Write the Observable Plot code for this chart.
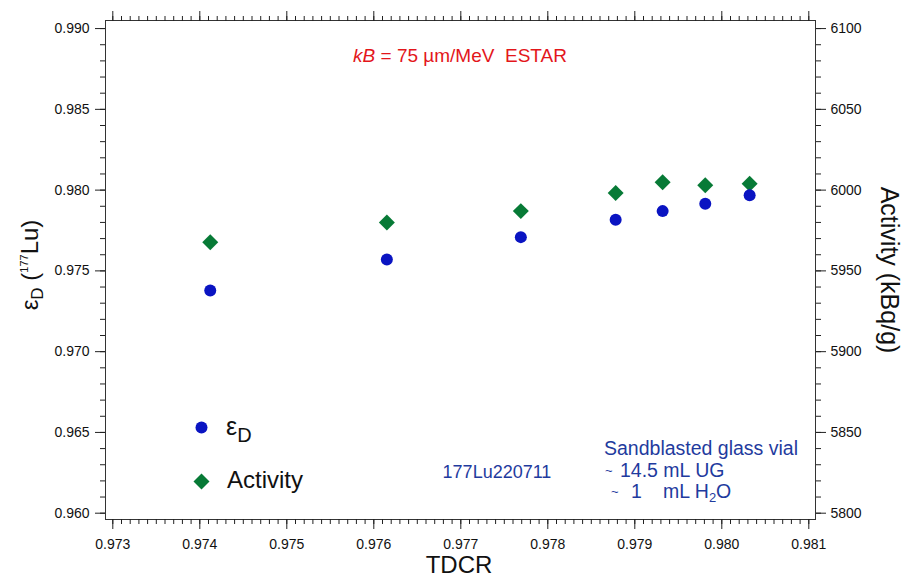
<!DOCTYPE html>
<html>
<head>
<meta charset="utf-8">
<script src="https://cdn.jsdelivr.net/npm/d3@7"></script>
<script src="https://cdn.jsdelivr.net/npm/@observablehq/plot@0.6"></script>
<style>
  html, body { margin: 0; padding: 0; background: white; }
  svg text { white-space: pre; }
</style>
</head>
<body>
<div id="chart"></div>
<script>
// ---- data ----
const tdcr     = [0.97412, 0.97615, 0.97769, 0.97878, 0.97932, 0.97981, 0.98032];
const epsD     = [0.97379, 0.97571, 0.97709, 0.97817, 0.97870, 0.97916, 0.97968];
const activity = [5967.8, 5980.0, 5987.0, 5998.2, 6004.8, 6003.0, 6004.0];

// tick values
const xMajor = [0.973, 0.974, 0.975, 0.976, 0.977, 0.978, 0.979, 0.980, 0.981];
const xMinor = d3.range(0, 81).map(i => +(0.973 + i * 0.0001).toFixed(4));
const yMajor = [0.960, 0.965, 0.970, 0.975, 0.980, 0.985, 0.990];
const yMinor = d3.range(0, 31).map(i => +(0.960 + i * 0.001).toFixed(3));
const activityTicks = [5800, 5850, 5900, 5950, 6000, 6050, 6100];

// right-hand scale: activity 5800..6100 shares the frame with eps 0.960..0.990
const actToEps = a => 0.960 + (a - 5800) / 10000;
const epsToAct = e => Math.round(5800 + (e - 0.960) * 10000);

const data = tdcr.map((t, i) => ({tdcr: t, eps: epsD[i], act: activity[i]}));

const BLUE = "#0a14c2";
const GREEN = "#077a36";
const TEXTBLUE = "#1f3b9e";
const RED = "#e3161b";

const plot = Plot.plot({
  width: 903,
  height: 579,
  marginLeft: 105,
  marginRight: 88,
  marginTop: 20,
  marginBottom: 60,
  x: {domain: [0.972916, 0.981077]},
  y: {domain: [0.95961, 0.99050]},
  style: {fontFamily: "'Liberation Sans', Arial, sans-serif", fontSize: "14px", color: "#222", background: "white"},
  marks: [
    Plot.frame({stroke: "#333"}),
    // bottom axis
    Plot.axisX(xMajor, {anchor: "bottom", tickSize: 10, tickPadding: 10, tickFormat: d3.format(".3f"), label: null, fill: "#111"}),
    Plot.axisX(xMinor, {anchor: "bottom", tickSize: 5, fill: "none", label: null}),
    // top axis (ticks only)
    Plot.axisX(xMajor, {anchor: "top", tickSize: 10, fill: "none", label: null}),
    Plot.axisX(xMinor, {anchor: "top", tickSize: 5, fill: "none", label: null}),
    // left axis
    Plot.axisY(yMajor, {anchor: "left", tickSize: 10, tickPadding: 6, tickFormat: d3.format(".3f"), label: null, fill: "#111"}),
    Plot.axisY(yMinor, {anchor: "left", tickSize: 5, fill: "none", label: null}),
    // right axis (activity)
    Plot.axisY(yMajor, {anchor: "right", tickSize: 10, tickPadding: 5, tickFormat: d => String(epsToAct(d)), label: null, fill: "#111"}),
    Plot.axisY(yMinor, {anchor: "right", tickSize: 5, fill: "none", label: null}),
    // data
    Plot.dot(data, {x: "tdcr", y: d => actToEps(d.act), symbol: "diamond2", r: 7.2, fill: GREEN, stroke: "none"}),
    Plot.dot(data, {x: "tdcr", y: "eps", r: 6, fill: BLUE, stroke: "none"}),
    // legend symbols
    Plot.dot([0], {frameAnchor: "bottom-left", dx: 96, dy: -92, r: 6, fill: BLUE, stroke: "none"}),
    Plot.dot([0], {frameAnchor: "bottom-left", dx: 96, dy: -38, symbol: "diamond2", r: 7.2, fill: GREEN, stroke: "none"})
  ]
});

document.getElementById("chart").appendChild(plot);

const svg = d3.select(plot);
const FONT = "'Liberation Sans', Arial, sans-serif";
const g = svg.append("g").attr("font-family", FONT).attr("text-anchor", "start");

// x axis title
g.append("text").attr("x", 459).attr("y", 573).attr("text-anchor", "middle")
  .attr("font-size", 24).attr("fill", "#111").text("TDCR");

// left axis title: εD (177Lu)
const lt = g.append("text").attr("transform", "translate(38,265) rotate(-90)")
  .attr("text-anchor", "middle").attr("font-size", 24).attr("fill", "#111");
lt.append("tspan").text("ε");
lt.append("tspan").attr("font-size", 17).attr("dy", 5).text("D");
lt.append("tspan").attr("dy", -5).text(" (");
lt.append("tspan").attr("font-size", 11).attr("dy", -10).text("177");
lt.append("tspan").attr("dy", 10).text("Lu)");

// right axis title
g.append("text").attr("transform", "translate(881,270) rotate(90)")
  .attr("text-anchor", "middle").attr("font-size", 25).attr("fill", "#111")
  .text("Activity (kBq/g)");

// kB annotation
const kb = g.append("text").attr("x", 460).attr("y", 62).attr("text-anchor", "middle")
  .attr("font-size", 19).attr("fill", RED);
kb.append("tspan").attr("font-style", "italic").text("kB");
kb.append("tspan").text(" = 75 µm/MeV  ESTAR");

// legend labels
const le = g.append("text").attr("x", 226).attr("y", 435).attr("font-size", 25).attr("fill", "#111");
le.append("tspan").text("ε");
le.append("tspan").attr("font-size", 20).attr("dy", 7).text("D");
g.append("text").attr("x", 227).attr("y", 488).attr("font-size", 24).attr("fill", "#111").text("Activity");

// sample id
g.append("text").attr("x", 497).attr("y", 478).attr("text-anchor", "middle")
  .attr("font-size", 18).attr("fill", TEXTBLUE).text("177Lu220711");

// vial description
g.append("text").attr("x", 604).attr("y", 455).attr("font-size", 19.5).attr("fill", TEXTBLUE).text("Sandblasted glass vial");
const l2 = g.append("text").attr("y", 477).attr("font-size", 19.5).attr("fill", TEXTBLUE);
l2.append("tspan").attr("x", 605).attr("font-size", 13).attr("dy", -2).text("~");
l2.append("tspan").attr("x", 620).attr("dy", 2).text("14.5 mL UG");
const l3 = g.append("text").attr("y", 498).attr("font-size", 19.5).attr("fill", TEXTBLUE);
l3.append("tspan").attr("x", 611).attr("font-size", 13).attr("dy", -2).text("~");
l3.append("tspan").attr("x", 631).attr("dy", 2).text("1");
l3.append("tspan").attr("x", 663).text("mL H");
l3.append("tspan").attr("font-size", 13).attr("dy", 4).text("2");
l3.append("tspan").attr("dy", -4).text("O");
</script>
</body>
</html>
